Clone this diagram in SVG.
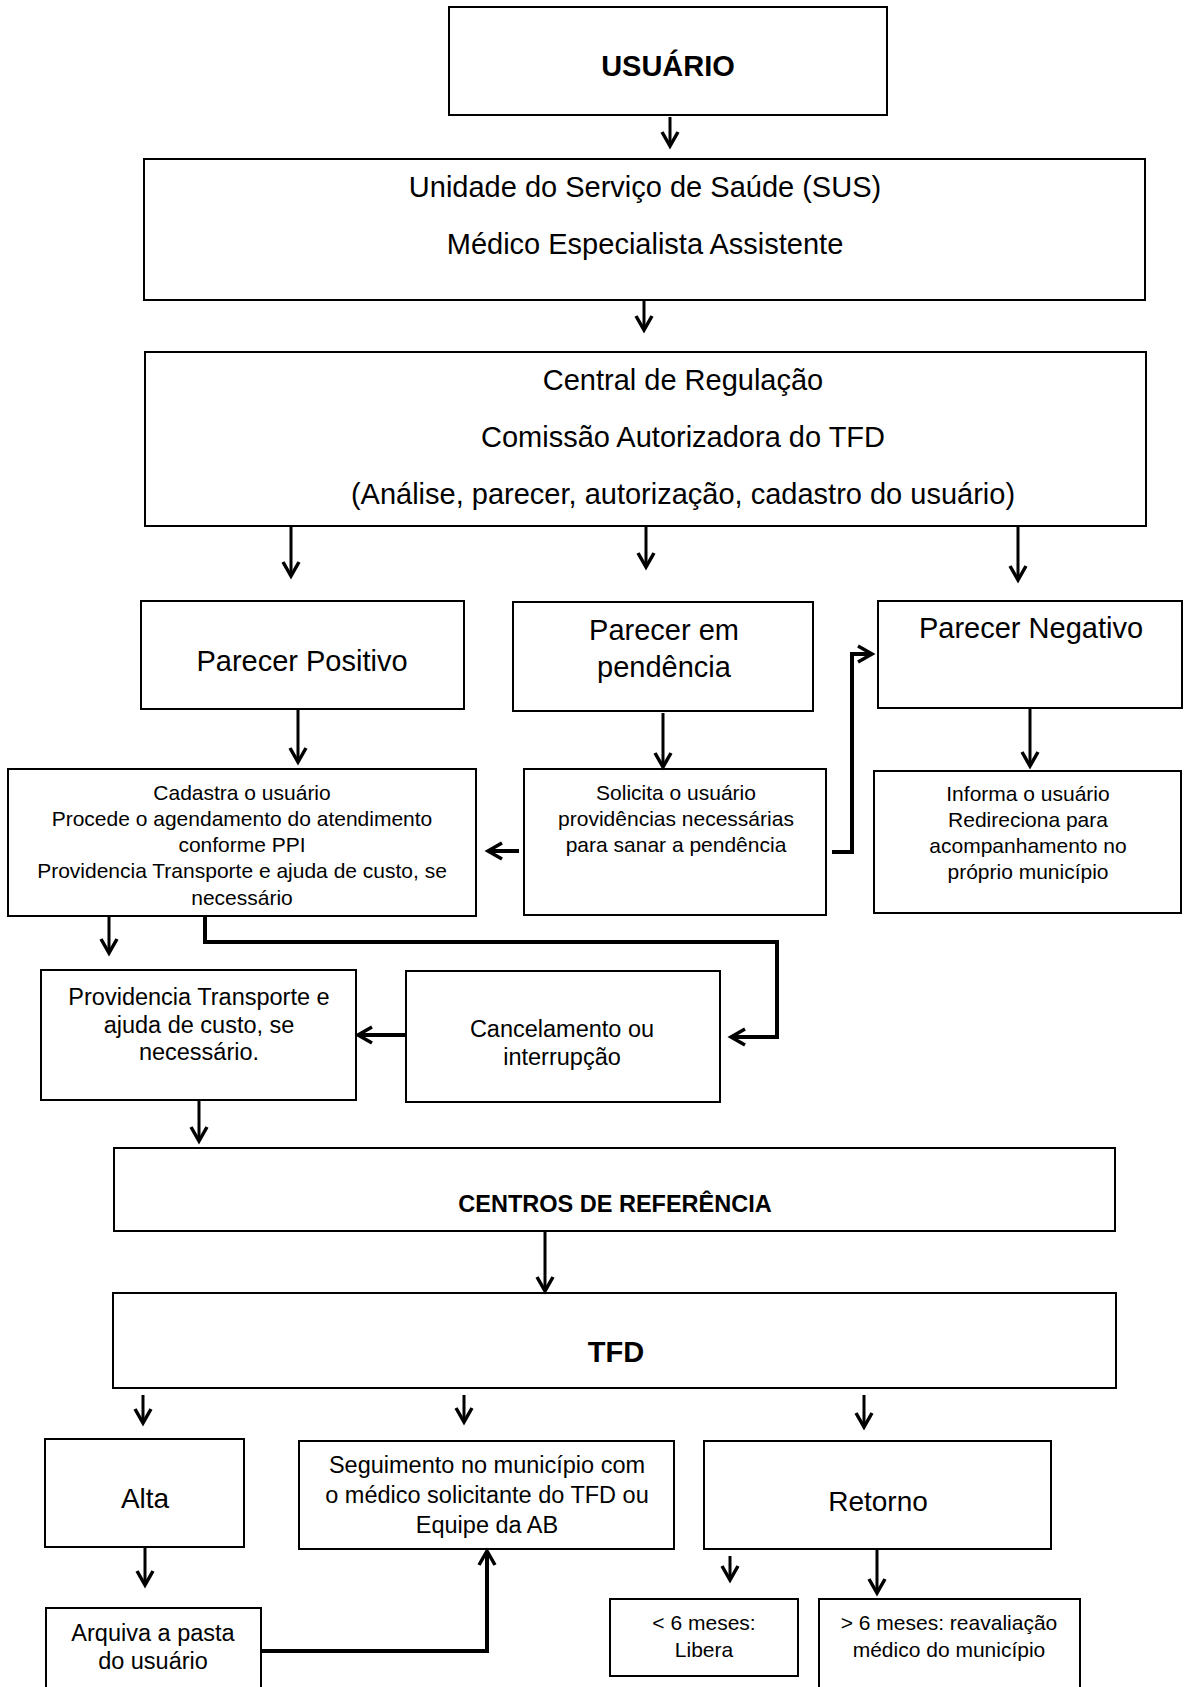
<svg xmlns="http://www.w3.org/2000/svg" width="1184" height="1687" viewBox="0 0 1184 1687">
<style>
.box{fill:#fff;stroke:#000;stroke-width:2}
.t{font-family:"Liberation Sans",Arial,sans-serif;fill:#000;text-anchor:middle}
.b{font-weight:bold}
.f29{font-size:29px}
.f28{font-size:28px}
.f24{font-size:23.5px}
.f21{font-size:21px}
.c{fill:none;stroke:#000;stroke-width:3;marker-end:url(#arr)}
.k{fill:none;stroke:#000;stroke-width:4;marker-end:url(#arr)}
</style>
<defs>
<marker id="arr" markerUnits="userSpaceOnUse" markerWidth="30" markerHeight="30" viewBox="-20 -15 30 30" refX="0" refY="0" orient="auto" overflow="visible">
<path d="M-14,-8 L0,0 L-14,8" fill="none" stroke="#000" stroke-width="3.5" stroke-linejoin="miter"/>
</marker>
</defs>
<rect width="1184" height="1687" fill="#fff"/>
<g id="usuario"><rect class="box" x="449" y="7" width="438" height="108"/><text class="t b f29" x="668" y="76">USUÁRIO</text></g>
<g id="unidade"><rect class="box" x="144" y="159" width="1001" height="141"/><text class="t f29" x="645" y="197">Unidade do Serviço de Saúde (SUS)</text><text class="t f29" x="645" y="254">Médico Especialista Assistente</text></g>
<g id="central"><rect class="box" x="145" y="352" width="1001" height="174"/><text class="t f29" x="683" y="390">Central de Regulação</text><text class="t f29" x="683" y="447">Comissão Autorizadora do TFD</text><text class="t f29" x="683" y="504">(Análise, parecer, autorização, cadastro do usuário)</text></g>
<g id="positivo"><rect class="box" x="141" y="601" width="323" height="108"/><text class="t f29" x="302" y="671">Parecer Positivo</text></g>
<g id="pendencia"><rect class="box" x="513" y="602" width="300" height="109"/><text class="t f29" x="664" y="640">Parecer em</text><text class="t f29" x="664" y="677">pendência</text></g>
<g id="negativo"><rect class="box" x="878" y="601" width="304" height="107"/><text class="t f29" x="1031" y="638">Parecer Negativo</text></g>
<g id="cadastra"><rect class="box" x="8" y="769" width="468" height="147"/><text class="t f21" x="242" y="800">Cadastra o usuário</text><text class="t f21" x="242" y="826">Procede o agendamento do atendimento</text><text class="t f21" x="242" y="852">conforme PPI</text><text class="t f21" x="242" y="878">Providencia Transporte e ajuda de custo, se</text><text class="t f21" x="242" y="905">necessário</text></g>
<g id="solicita"><rect class="box" x="524" y="769" width="302" height="146"/><text class="t f21" x="676" y="800">Solicita o usuário</text><text class="t f21" x="676" y="826">providências necessárias</text><text class="t f21" x="676" y="852">para sanar a pendência</text></g>
<g id="informa"><rect class="box" x="874" y="771" width="307" height="142"/><text class="t f21" x="1028" y="801">Informa o usuário</text><text class="t f21" x="1028" y="827">Redireciona para</text><text class="t f21" x="1028" y="853">acompanhamento no</text><text class="t f21" x="1028" y="879">próprio município</text></g>
<g id="providencia"><rect class="box" x="41" y="970" width="315" height="130"/><text class="t f24" x="199" y="1005">Providencia Transporte e</text><text class="t f24" x="199" y="1033">ajuda de custo, se</text><text class="t f24" x="199" y="1060">necessário.</text></g>
<g id="cancelamento"><rect class="box" x="406" y="971" width="314" height="131"/><text class="t f24" x="562" y="1037">Cancelamento ou</text><text class="t f24" x="562" y="1065">interrupção</text></g>
<g id="centros"><rect class="box" x="114" y="1148" width="1001" height="83"/><text class="t b f24" x="615" y="1212">CENTROS DE REFERÊNCIA</text></g>
<g id="tfd"><rect class="box" x="113" y="1293" width="1003" height="95"/><text class="t b f29" x="616" y="1362">TFD</text></g>
<g id="alta"><rect class="box" x="45" y="1439" width="199" height="108"/><text class="t f28" x="145" y="1508">Alta</text></g>
<g id="seguimento"><rect class="box" x="299" y="1441" width="375" height="108"/><text class="t f24" x="487" y="1473">Seguimento no município com</text><text class="t f24" x="487" y="1503">o médico solicitante do TFD ou</text><text class="t f24" x="487" y="1533">Equipe da AB</text></g>
<g id="retorno"><rect class="box" x="704" y="1441" width="347" height="108"/><text class="t f28" x="878" y="1511">Retorno</text></g>
<g id="arquiva"><rect class="box" x="46" y="1608" width="215" height="100"/><text class="t f24" x="153" y="1641">Arquiva a pasta</text><text class="t f24" x="153" y="1669">do usuário</text></g>
<g id="menos6"><rect class="box" x="610" y="1599" width="188" height="77"/><text class="t f21" x="704" y="1630">&lt; 6 meses:</text><text class="t f21" x="704" y="1657">Libera</text></g>
<g id="mais6"><rect class="box" x="819" y="1599" width="261" height="100"/><text class="t f21" x="949" y="1630">&gt; 6 meses: reavaliação</text><text class="t f21" x="949" y="1657">médico do município</text></g>
<g id="connectors">
<path class="c" d="M670 117 V146"/>
<path class="c" d="M644 300 V330"/>
<path class="c" d="M291 527 V576"/>
<path class="c" d="M646 527 V567"/>
<path class="c" d="M1018 527 V580"/>
<path class="c" d="M298 709 V762"/>
<path class="c" d="M663 713 V767"/>
<path class="c" d="M1030 708 V766"/>
<path class="k" d="M519 851 H488"/>
<path class="k" d="M832 852 H852 V654 H872"/>
<path class="c" d="M109 915 V953"/>
<path class="k" d="M205 915 V942 H777 V1037 H731"/>
<path class="k" d="M406 1035 H358"/>
<path class="c" d="M199 1100 V1141"/>
<path class="c" d="M545 1231 V1291"/>
<path class="c" d="M143 1395 V1423"/>
<path class="c" d="M464 1395 V1422"/>
<path class="c" d="M864 1395 V1427"/>
<path class="c" d="M145 1547 V1585"/>
<path class="k" d="M261 1651 H487 V1551"/>
<path class="c" d="M730 1556 V1580"/>
<path class="c" d="M877 1549 V1593"/>
</g>
</svg>
